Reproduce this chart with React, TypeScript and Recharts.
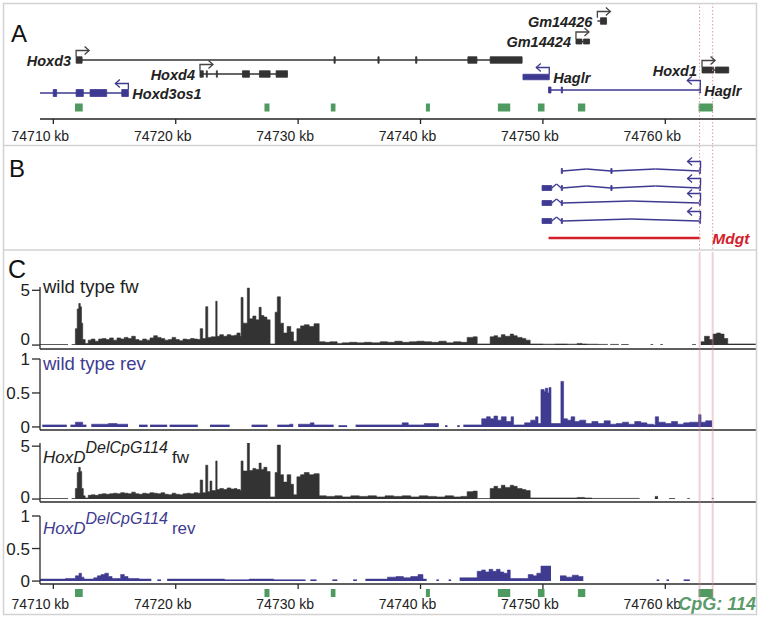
import React from 'react';
import { ComposedChart, Area, XAxis, YAxis, ReferenceArea, ReferenceLine, ReferenceDot } from 'recharts';

const FONT = '"Liberation Sans", Arial, Helvetica, sans-serif';
const X_DOMAIN: [number, number] = [74708.91, 74767.41];
const kbTicks = [74710, 74720, 74730, 74740, 74750, 74760];

// ---------- Panel A: gene annotation ----------
const geneNames = ['Hoxd3', 'Hoxd4', 'Hoxd3os1', 'Gm14426', 'Gm14424', 'Haglr', 'Hoxd1', 'Haglr'];
const geneStrand = ['+', '+', '-', '+', '+', '-', '+', '-'];
const geneStart = [74711.86, 74721.98, 74708.91, 74754.45, 74752.7, 74748.37, 74763.0, 74750.46];
const geneEnd = [74748.3, 74729.13, 74716.13, 74755.2, 74753.81, 74750.52, 74765.18, 74762.86];
const geneExons: number[][][] = [
  [[74711.86, 74712.35], [74732.93, 74733.03], [74736.52, 74736.62], [74739.6, 74739.7], [74743.87, 74744.61], [74745.69, 74748.3]],
  [[74721.98, 74722.25], [74722.5, 74722.58], [74723.32, 74723.4], [74725.45, 74726.02], [74726.84, 74727.71], [74728.2, 74729.13]],
  [[74709.99, 74710.27], [74711.86, 74712.45], [74713.0, 74714.36], [74715.59, 74716.13]],
  [[74754.7, 74755.2]],
  [[74752.7, 74753.19], [74753.32, 74753.81]],
  [[74748.37, 74750.52]],
  [[74763.0, 74763.95], [74764.09, 74765.18]],
  [[74750.46, 74750.66], [74751.5, 74751.6], [74762.78, 74762.88]],
];
const cpgIslands: number[][] = [
  [74711.77, 74712.4], [74727.25, 74727.66], [74732.67, 74733.05], [74740.44, 74740.77],
  [74746.32, 74747.33], [74749.59, 74750.13], [74752.86, 74753.46], [74762.72, 74763.9],
];
const deletionBounds = [74762.8, 74763.87];

// ---------- Panel B: transcripts ----------
const txExons: number[][][] = [
  [[74751.5, 74751.6], [74755.55, 74755.65], [74762.78, 74762.88]],
  [[74749.93, 74750.72], [74751.5, 74751.6], [74755.55, 74755.65], [74762.78, 74762.88]],
  [[74749.93, 74750.72], [74751.5, 74751.6], [74762.78, 74762.88]],
  [[74749.93, 74750.72], [74751.5, 74751.6], [74762.78, 74762.88]],
];
const mdgtSpan = [74750.46, 74762.86];

// ---------- Panel C: coverage (kb, value) step points ----------
type P = [number, number | null];
const wtFw: P[] = [
  [74708.9, 0.05], [74711.2, null], [74711.5, 0.05], [74711.8, 1.5], [74711.95, 3.3], [74712.08, 3.8], [74712.2, 3.5], [74712.3, 2.0], [74712.4, 0.5], [74712.6, 0.15], [74712.85, 0.45],
  [74713.1, 0.55], [74713.4, 0.35], [74713.7, 0.55], [74714.0, 0.6], [74714.3, 0.5], [74714.6, 0.65], [74714.9, 0.45], [74715.2, 0.65], [74715.5, 0.55], [74715.8, 0.7], [74716.1, 0.6], [74716.4, 0.8], [74716.7, 0.5], [74717.0, 0.4], [74717.3, 0.55], [74717.6, 0.45], [74717.9, 0.65], [74718.2, 0.85], [74718.5, 0.7], [74718.8, 0.6], [74719.1, 0.45], [74719.4, 0.5], [74719.7, 0.7], [74720.0, 0.5], [74720.3, 0.4], [74720.6, 0.55], [74720.9, 0.5], [74721.2, 0.6], [74721.5, 0.55], [74721.8, 0.5],
  [74722.0, 1.5], [74722.2, 0.6], [74722.45, 3.5], [74722.62, 0.7], [74722.9, 0.75], [74723.27, 4.0], [74723.38, 0.8], [74723.6, 0.95], [74723.9, 0.8], [74724.2, 0.95], [74724.5, 0.85], [74724.8, 0.9], [74725.0, 1.1], [74725.26, 0.8], [74725.34, 4.35], [74725.5, 2.0], [74725.85, 5.2], [74726.02, 2.4], [74726.3, 2.65], [74726.55, 2.3], [74726.81, 3.45], [74726.98, 2.7], [74727.2, 2.55], [74727.45, 2.3], [74727.71, 0.1], [74728.12, 3.0], [74728.3, 4.4], [74728.55, 2.0], [74728.8, 1.1], [74729.1, 1.7], [74729.4, 1.2], [74729.62, 0.35], [74729.9, 1.5], [74730.2, 1.75], [74730.5, 1.85], [74730.9, 1.7], [74731.3, 1.95], [74731.72, 0.3],
  [74732.2, 0.25], [74732.6, 0.3], [74733.19, 0.15], [74733.6, 0.2], [74734.2, 0.25], [74734.8, 0.2], [74735.4, 0.25], [74736.0, 0.2], [74736.7, 0.3], [74737.3, 0.25], [74737.9, 0.35], [74738.5, 0.25], [74739.1, 0.3], [74739.7, 0.35], [74740.3, 0.3], [74740.9, 0.25], [74741.5, 0.35], [74742.1, 0.2], [74742.7, 0.3], [74743.3, 0.25],
  [74743.81, 0.7], [74744.3, 0.75], [74744.63, 0.1], [74745.69, 0.75], [74746.0, 0.85], [74746.3, 0.7], [74746.6, 0.95], [74746.9, 0.8], [74747.33, 1.0], [74747.6, 0.85], [74747.9, 0.7], [74748.3, 0.6], [74748.6, 0.45], [74748.96, 0.1],
  [74750.0, 0.08], [74751.0, 0.1], [74752.0, 0.08], [74752.8, 0.15], [74753.2, 0.1], [74753.62, 0.08], [74754.5, 0.06], [74755.3, null], [74755.5, 0.06], [74756.2, null], [74756.4, 0.05], [74757.0, null], [74758.8, 0.05], [74759.0, null], [74759.6, 0.05], [74759.8, null], [74762.2, 0.05], [74762.5, null],
  [74762.9, 0.3], [74763.2, 0.8], [74763.6, 0.5], [74763.9, 1.0], [74764.2, 1.1], [74764.5, 1.0], [74764.8, 0.6], [74765.1, 0.1], [74767.4, 0.1],
];
const wtRev: P[] = [
  [74709.1, 0.03], [74711.1, null], [74711.4, 0.03], [74711.8, 0.07], [74712.4, 0.03], [74712.7, null], [74713.1, 0.04], [74714.5, 0.05], [74715.2, 0.04], [74716.1, null], [74717.0, 0.03], [74717.7, null], [74717.9, 0.03], [74719.3, null], [74719.5, 0.03], [74721.8, null], [74722.8, 0.03], [74724.4, null], [74726.2, 0.03], [74727.5, null], [74728.3, 0.03], [74729.3, 0.04], [74729.6, null], [74730.0, 0.04], [74731.0, 0.06], [74731.3, 0.03], [74732.9, null], [74733.3, 0.02], [74734.0, null], [74734.7, 0.03],
  [74736.7, 0.03], [74738.5, 0.06], [74739.0, 0.03], [74740.3, 0.05], [74741.5, null], [74742.0, 0.02], [74742.2, null], [74743.0, 0.02], [74743.2, null], [74743.5, 0.03],
  [74745.0, 0.12], [74745.4, 0.15], [74745.7, 0.12], [74746.0, 0.16], [74746.3, 0.1], [74746.6, 0.15], [74747.0, 0.08], [74747.4, 0.15], [74747.6, 0.03], [74748.5, 0.06], [74749.0, 0.1], [74749.4, 0.15], [74749.6, 0.05],
  [74749.84, 0.55], [74750.1, 0.52], [74750.2, 0.57], [74750.4, 0.5], [74750.5, 0.58], [74750.66, 0.05], [74751.47, 0.67], [74751.69, 0.12],
  [74752.0, 0.1], [74752.3, 0.15], [74752.6, 0.08], [74753.0, 0.1], [74753.5, 0.05], [74754.0, 0.08], [74754.5, 0.05], [74755.0, 0.09], [74755.5, 0.04], [74756.0, 0.05], [74756.5, 0.07], [74757.0, 0.04], [74757.5, 0.08], [74758.0, 0.06], [74758.5, 0.04], [74759.04, 0.03], [74759.18, 0.15], [74759.45, 0.07], [74760.0, 0.05], [74760.5, 0.08], [74761.0, 0.04], [74761.5, 0.06], [74762.0, 0.07], [74762.72, 0.18], [74762.92, 0.07], [74763.3, 0.09], [74763.82, null],
];
const delFw: P[] = [
  [74708.9, 0.05], [74711.2, null], [74711.5, 0.05], [74711.8, 1.0], [74711.95, 2.5], [74712.08, 3.0], [74712.2, 2.6], [74712.32, 1.0], [74712.45, 0.3], [74712.6, 0.1], [74712.85, 0.35],
  [74713.1, 0.4], [74713.4, 0.35], [74713.7, 0.45], [74714.0, 0.5], [74714.3, 0.45], [74714.6, 0.5], [74714.9, 0.55], [74715.2, 0.5], [74715.5, 0.6], [74715.8, 0.55], [74716.1, 0.5], [74716.4, 0.65], [74716.7, 0.5], [74717.0, 0.45], [74717.3, 0.55], [74717.6, 0.5], [74717.9, 0.6], [74718.2, 0.55], [74718.5, 0.5], [74718.8, 0.6], [74719.1, 0.45], [74719.4, 0.4], [74719.7, 0.55], [74720.0, 0.45], [74720.3, 0.4], [74720.6, 0.5], [74720.9, 0.55], [74721.2, 0.5], [74721.5, 0.6], [74721.8, 0.55],
  [74722.0, 1.8], [74722.2, 0.6], [74722.45, 3.2], [74722.62, 0.7], [74722.8, 1.7], [74722.95, 0.8], [74723.27, 3.6], [74723.38, 0.9], [74723.6, 1.0], [74723.9, 0.9], [74724.2, 1.05], [74724.5, 0.95], [74724.8, 1.0], [74725.0, 0.9], [74725.26, 0.8], [74725.34, 3.6], [74725.5, 2.65], [74725.85, 5.3], [74726.02, 2.7], [74726.3, 2.9], [74726.55, 2.8], [74726.81, 3.4], [74726.98, 2.8], [74727.2, 3.0], [74727.45, 2.6], [74727.71, 0.2], [74728.12, 2.5], [74728.3, 5.1], [74728.55, 2.3], [74728.8, 1.6], [74729.1, 2.3], [74729.4, 1.4], [74729.62, 0.4], [74729.9, 2.1], [74730.2, 2.3], [74730.5, 2.5], [74730.9, 2.3], [74731.3, 2.4], [74731.72, 0.3],
  [74732.3, 0.25], [74733.0, 0.3], [74733.6, 0.2], [74734.3, 0.3], [74735.0, 0.25], [74735.7, 0.3], [74736.4, 0.2], [74737.1, 0.3], [74737.8, 0.25], [74738.5, 0.3], [74739.2, 0.2], [74739.9, 0.3], [74740.6, 0.25], [74741.3, 0.2], [74742.0, 0.3], [74742.7, 0.2], [74743.3, 0.25],
  [74743.81, 0.7], [74744.3, 0.75], [74744.63, 0.05], [74745.69, 1.0], [74746.0, 1.2], [74746.3, 1.0], [74746.6, 1.3], [74746.9, 1.1], [74747.33, 1.3], [74747.6, 1.2], [74747.9, 1.0], [74748.3, 0.9], [74748.6, 0.8], [74748.96, 0.1],
  [74752.8, 0.15], [74753.4, 0.1], [74754.0, 0.06], [74757.9, null], [74759.15, 0.25], [74759.4, null], [74760.3, 0.05], [74760.8, null], [74761.8, 0.05], [74762.0, null], [74763.8, 0.05], [74763.95, null],
];
const delRev: P[] = [
  [74708.9, 0.03], [74711.0, 0.04], [74711.8, 0.08], [74712.1, 0.12], [74712.3, 0.06], [74712.5, 0.03], [74713.3, 0.05], [74713.6, 0.08], [74713.9, 0.1], [74714.2, 0.12], [74714.5, 0.07], [74714.8, 0.04], [74715.5, 0.1], [74715.8, 0.07], [74716.1, 0.04], [74717.0, 0.03], [74718.0, null], [74718.5, 0.02], [74718.8, null], [74719.3, 0.03], [74722.0, 0.03], [74724.0, 0.02], [74726.0, 0.03], [74728.0, 0.02], [74730.0, 0.02], [74730.6, null], [74731.0, 0.02], [74731.5, null], [74732.8, 0.02], [74733.2, null], [74734.5, 0.02], [74734.8, null], [74735.5, 0.03],
  [74737.3, 0.06], [74738.0, 0.07], [74738.6, 0.05], [74739.2, 0.07], [74739.8, 0.1], [74740.2, 0.03], [74740.5, null], [74741.3, 0.02], [74741.5, null], [74742.3, 0.02], [74742.5, null], [74743.2, 0.05],
  [74744.63, 0.15], [74745.0, 0.17], [74745.3, 0.14], [74745.6, 0.18], [74745.9, 0.15], [74746.2, 0.18], [74746.5, 0.14], [74746.8, 0.12], [74747.1, 0.17], [74747.33, 0.04], [74748.8, 0.1], [74749.2, 0.08], [74749.5, 0.12], [74749.84, 0.23], [74750.66, null],
  [74751.4, 0.08], [74751.9, 0.06], [74752.4, 0.09], [74752.9, 0.07], [74753.3, null], [74759.3, 0.02], [74759.5, null], [74760.1, 0.02], [74760.3, null], [74761.5, 0.02], [74762.0, null],
];

// ---------- layout / style ----------
const geneRow = [60, 74, 93, 21, 41.5, 77, 70, 90];
const geneExonH = [6.5, 6.5, 7, 6.5, 5, 5.5, 6, 6];
const BLACK = '#333333';
const BLUE = '#3e3a92';
const geneColor = [BLACK, BLACK, BLUE, BLACK, BLACK, BLUE, BLACK, BLUE];
const txRow = [171, 188, 203, 221];
const mdgtRow = 238;
const GREEN = '#4e9a60';
const RED = '#d4202a';
const FW_COLOR = '#333333';
const REV_COLOR = '#3e3b90';
const TOP_PAD = 12;

function toSteps(pairs: P[]) {
  const out: { x: number; v: number | null }[] = [];
  let prev: number | null = null;
  for (const [x, v] of pairs) {
    if (v === null && prev !== null) out.push({ x, v: prev });
    out.push({ x, v });
    prev = v;
  }
  return out;
}

const arrowShape = (dir: number, color: string, start: number) => (p: any) => {
  const { cx, cy } = p;
  const top = cy - 9.5;
  const endX = cx + dir * 13;
  return (
    <g>
      <path d={`M${cx},${cy - start} V${top} H${endX}`} stroke={color} fill="none" strokeWidth={1.3} />
      <path d={`M${endX - dir * 4.5},${top - 4} L${endX},${top} L${endX - dir * 4.5},${top + 4}`} stroke={color} fill="none" strokeWidth={1.3} />
    </g>
  );
};

const textShape = (text: string, dx: number, dy: number, anchor: string, style: any) => (p: any) => (
  <text x={p.cx + dx} y={p.cy + dy} textAnchor={anchor} {...style}>{text}</text>
);

const geneLabelStyle = { fontFamily: FONT, fontSize: 14.5, fontWeight: 'bold', fontStyle: 'italic', fill: '#222' };

// x tick label: the reference sets labels slightly left of the tick mark
const KbTick = (props: any) => {
  const { x, y, payload } = props;
  return (
    <text x={x - 13} y={y} dy="0.71em" textAnchor="middle" fontSize={14} fill="#222" fontFamily={FONT}>
      {`${payload.value} kb`}
    </text>
  );
};

const makeYTick = (zeroDy: number) => (props: any) => {
  const { x, y, payload } = props;
  const dy = payload.value === 0 ? zeroDy : 0;
  return (
    <text x={x} y={y + dy} dy="0.355em" textAnchor="end" fontSize={17} fill="#222" fontFamily={FONT}>
      {String(payload.value)}
    </text>
  );
};

function PanelA() {
  const els: any[] = [];
  geneNames.forEach((name, i) => {
    const color = geneColor[i];
    const row = geneRow[i];
    const h = geneExonH[i];
    els.push(
      <ReferenceLine key={`gl${i}`} segment={[{ x: geneStart[i], y: row }, { x: geneEnd[i], y: row }]} stroke={color} strokeWidth={1.4} ifOverflow="visible" />
    );
    geneExons[i].forEach(([a, b], j) =>
      els.push(
        <ReferenceArea key={`ge${i}-${j}`} x1={a} x2={b} y1={row - h / 2} y2={row + h / 2} fill={color} fillOpacity={1} stroke={color} strokeWidth={0.8} ifOverflow="visible" />
      )
    );
    const plus = geneStrand[i] === '+';
    const tss = plus ? geneStart[i] : geneEnd[i];
    els.push(
      <ReferenceDot key={`ga${i}`} x={tss} y={row} ifOverflow="visible" shape={arrowShape(plus ? 1 : -1, plus ? '#444' : color, h / 2)} />
    );
    els.push(
      <ReferenceDot key={`gt${i}`} x={tss} y={row} ifOverflow="visible" shape={textShape(name, plus ? -5 : 4, 5.5, plus ? 'end' : 'start', geneLabelStyle)} />
    );
  });
  cpgIslands.forEach(([a, b], i) =>
    els.push(<ReferenceArea key={`c${i}`} x1={a} x2={b} y1={103.5} y2={111.5} fill={GREEN} fillOpacity={1} ifOverflow="visible" />)
  );
  deletionBounds.forEach((x, i) =>
    els.push(<ReferenceLine key={`d${i}`} segment={[{ x, y: 3 }, { x, y: 146 }]} stroke="#dc9aa1" strokeDasharray="1.5 2" strokeWidth={1} ifOverflow="visible" />)
  );
  return (
    <div style={{ position: 'absolute', left: 0, top: 0 }}>
      <ComposedChart width={762} height={150} data={[]} margin={{ top: 0, right: 6, bottom: 0, left: 40 }}>
        <XAxis type="number" dataKey="x" domain={X_DOMAIN} allowDataOverflow ticks={kbTicks} interval={0} height={31} tickSize={5} tickMargin={7} tick={<KbTick />} axisLine={{ stroke: '#222', strokeWidth: 1.3 }} tickLine={{ stroke: '#222', strokeWidth: 1.3 }} />
        <YAxis type="number" hide domain={[0, 119]} reversed allowDataOverflow />
        {els}
      </ComposedChart>
    </div>
  );
}

function PanelB() {
  const els: any[] = [];
  txExons.forEach((exons, i) => {
    const row = txRow[i];
    exons.forEach(([a, b], j) => {
      els.push(<ReferenceArea key={`te${i}-${j}`} x1={a} x2={b} y1={row - 2.5} y2={row + 2.5} fill={BLUE} fillOpacity={1} stroke={BLUE} strokeWidth={0.8} ifOverflow="visible" />);
      if (j < exons.length - 1) {
        const s = b;
        const e = exons[j + 1][0];
        const m = (s + e) / 2;
        const raise = e - s < 2 ? 4 : 2;
        els.push(<ReferenceLine key={`ti${i}-${j}a`} segment={[{ x: s, y: row }, { x: m, y: row - raise }]} stroke={BLUE} strokeWidth={1.3} ifOverflow="visible" />);
        els.push(<ReferenceLine key={`ti${i}-${j}b`} segment={[{ x: m, y: row - raise }, { x: e, y: row }]} stroke={BLUE} strokeWidth={1.3} ifOverflow="visible" />);
      }
    });
    const last = exons[exons.length - 1][1];
    els.push(<ReferenceDot key={`ta${i}`} x={last} y={row} ifOverflow="visible" shape={arrowShape(-1, BLUE, 2.5)} />);
  });
  els.push(<ReferenceLine key="mdgt" segment={[{ x: mdgtSpan[0], y: mdgtRow }, { x: mdgtSpan[1], y: mdgtRow }]} stroke={RED} strokeWidth={2.6} ifOverflow="visible" />);
  els.push(
    <ReferenceDot key="mdgtl" x={mdgtSpan[1]} y={mdgtRow} ifOverflow="visible" shape={textShape('Mdgt', 12, 6, 'start', { fontFamily: '"Liberation Sans Narrow", "Liberation Sans", Arial, sans-serif', fontSize: 15.5, fontStyle: 'italic', fontWeight: 'bold', fill: RED })} />
  );
  deletionBounds.forEach((x, i) =>
    els.push(<ReferenceLine key={`d${i}`} segment={[{ x, y: 146 }, { x, y: 250 }]} stroke="#dc9aa1" strokeDasharray="1.5 2" strokeWidth={1} ifOverflow="visible" />)
  );
  return (
    <div style={{ position: 'absolute', left: 0, top: 145 }}>
      <ComposedChart width={762} height={105} data={[]} margin={{ top: 0, right: 6, bottom: 0, left: 40 }}>
        <XAxis type="number" dataKey="x" hide domain={X_DOMAIN} allowDataOverflow />
        <YAxis type="number" hide domain={[145, 250]} reversed allowDataOverflow />
        {els}
      </ComposedChart>
    </div>
  );
}

function Track({ top, plotH, pairs, color, domain, ticks, bottomLabels, zeroDy = 0 }: any) {
  const axisH = bottomLabels ? 30 : 6;
  const data = toSteps(pairs);
  return (
    <div style={{ position: 'absolute', left: 0, top: top - TOP_PAD }}>
      <ComposedChart width={762} height={plotH + axisH + TOP_PAD} data={data} margin={{ top: TOP_PAD, right: 6, bottom: 0, left: 0 }}>
        <XAxis type="number" dataKey="x" domain={X_DOMAIN} allowDataOverflow ticks={kbTicks} interval={0} height={axisH} tickSize={5} tickMargin={10}
          tick={bottomLabels ? <KbTick /> : false}
          axisLine={{ stroke: '#2a2a2a', strokeWidth: 1.3 }} tickLine={{ stroke: '#2a2a2a', strokeWidth: 1.3 }} />
        <YAxis type="number" width={40} domain={domain} allowDataOverflow ticks={ticks} interval={0} tickSize={8} tickMargin={2}
          tick={makeYTick(zeroDy)}
          axisLine={{ stroke: '#2a2a2a', strokeWidth: 1.3 }} tickLine={{ stroke: '#2a2a2a', strokeWidth: 1.3 }} />
        <Area type="stepAfter" dataKey="v" stroke={color} strokeWidth={0.6} fill={color} fillOpacity={1} isAnimationActive={false} dot={false} activeDot={false} connectNulls={false} />
      </ComposedChart>
    </div>
  );
}

function OverlayC() {
  const els: any[] = [];
  deletionBounds.forEach((x, i) =>
    els.push(<ReferenceLine key={`p${i}`} segment={[{ x, y: 252 }, { x, y: 600 }]} stroke="rgba(215,140,150,0.4)" strokeWidth={2} ifOverflow="visible" />)
  );
  cpgIslands.forEach(([a, b], i) =>
    els.push(<ReferenceArea key={`c${i}`} x1={a} x2={b} y1={589} y2={597} fill={GREEN} fillOpacity={1} ifOverflow="visible" />)
  );
  els.push(
    <ReferenceDot key="cpgl" x={X_DOMAIN[1]} y={610} ifOverflow="visible" shape={textShape('CpG: 114', 0, 0, 'end', { fontFamily: FONT, fontSize: 18, fontWeight: 'bold', fontStyle: 'italic', fill: '#5b9b6b' })} />
  );
  return (
    <div style={{ position: 'absolute', left: 0, top: 250 }}>
      <ComposedChart width={762} height={369} data={[]} margin={{ top: 0, right: 6, bottom: 0, left: 40 }}>
        <XAxis type="number" dataKey="x" hide domain={X_DOMAIN} allowDataOverflow />
        <YAxis type="number" hide domain={[250, 619]} reversed allowDataOverflow />
        {els}
      </ComposedChart>
    </div>
  );
}

function Decor() {
  const t = { fontFamily: FONT };
  return (
    <svg width={762} height={619} style={{ position: 'absolute', left: 0, top: 0, pointerEvents: 'none' }}>
      <rect x={3.5} y={3.5} width={753} height={611} fill="none" stroke="#d2d2d2" strokeWidth={1.5} />
      <line x1={3.5} x2={756.5} y1={145.5} y2={145.5} stroke="#d2d2d2" strokeWidth={1.5} />
      <line x1={3.5} x2={756.5} y1={250} y2={250} stroke="#d2d2d2" strokeWidth={1.5} />
      <text x={11} y={42} fontSize={24} fill="#111" {...t}>A</text>
      <text x={9} y={177} fontSize={24} fill="#111" {...t}>B</text>
      <text x={8} y={278} fontSize={25} fill="#111" {...t}>C</text>
      <text x={43} y={293} fontSize={18.5} fill="#222" {...t}>wild type fw</text>
      <text x={43} y={370} fontSize={18.5} fill={REV_COLOR} {...t}>wild type rev</text>
      <text x={43} y={463} fontSize={17} fill="#222" {...t}>
        <tspan fontStyle="italic">HoxD</tspan>
        <tspan fontStyle="italic" fontSize={16} dy={-10}>DelCpG114</tspan>
        <tspan dy={10} dx={4}>fw</tspan>
      </text>
      <text x={43} y={534} fontSize={17} fill={REV_COLOR} {...t}>
        <tspan fontStyle="italic">HoxD</tspan>
        <tspan fontStyle="italic" fontSize={16} dy={-10}>DelCpG114</tspan>
        <tspan dy={10} dx={4}>rev</tspan>
      </text>
    </svg>
  );
}

export default function App() {
  return (
    <div style={{ position: 'absolute', left: 0, top: 0, width: 762, height: 619, background: '#fff', overflow: 'hidden', fontFamily: FONT }}>
      <PanelA />
      <PanelB />
      <Track top={287} plotH={62} pairs={wtFw} color={FW_COLOR} domain={[-0.36, 5.3]} ticks={[0, 5]} zeroDy={-6} />
      <Track top={359} plotH={71} pairs={wtRev} color={REV_COLOR} domain={[-0.045, 1]} ticks={[0, 0.5, 1]} />
      <Track top={443} plotH={59} pairs={delFw} color={FW_COLOR} domain={[-0.28, 5.3]} ticks={[0, 5]} zeroDy={-2} />
      <Track top={516} plotH={68} pairs={delRev} color={REV_COLOR} domain={[-0.045, 1]} ticks={[0, 0.5, 1]} bottomLabels />
      <OverlayC />
      <Decor />
    </div>
  );
}
